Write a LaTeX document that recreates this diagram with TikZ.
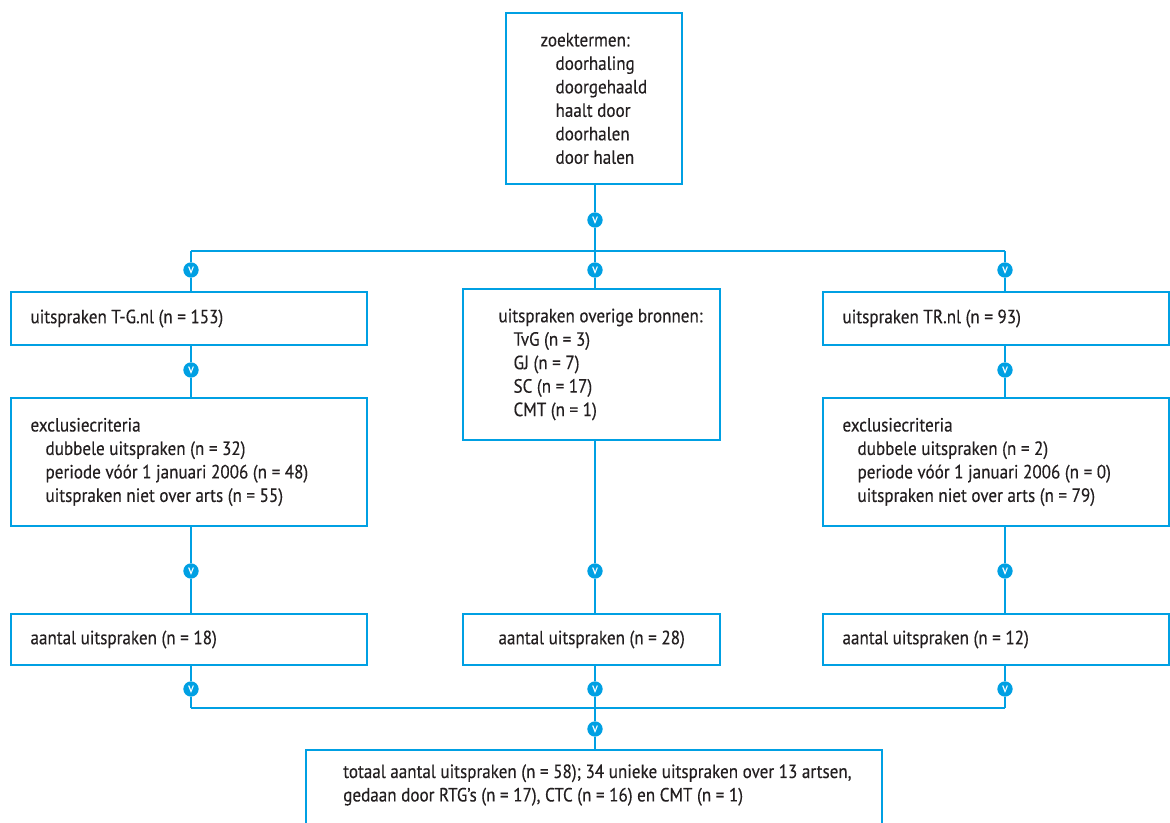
\documentclass[tikz,border=0pt]{standalone}
\usepackage{fontspec}
\setmainfont{PT Sans}[FakeStretch=0.89,FakeBold=0.3]
\usetikzlibrary{fit}
\definecolor{lb}{RGB}{0,160,227}
\definecolor{ink}{RGB}{35,31,32}
\newcommand\ind{\hspace*{11.25pt}}
\begin{document}
\begin{tikzpicture}[x=0.75pt,y=-0.75pt,
  box/.style={draw=lb, line width=1.1pt, inner sep=0pt, rectangle},
  txt/.style={inner sep=0pt, align=left, text=ink, font=\fontsize{14.4}{17.6}\selectfont, anchor=west},
  dot/.style={circle, fill=lb, minimum size=11.5pt, inner sep=0pt, text=white, font=\fontsize{10}{10}\selectfont},
  ln/.style={draw=lb, line width=1.1pt}]
\useasboundingbox (0,0) rectangle (1170,823);
\clip (0,0) rectangle (1170,823);
% boxes
\node[box, fit={(506,13) (682,184)}] (top) {};
\node[box, fit={(11,292) (367,345)}] (tg) {};
\node[box, fit={(11,398) (367,526)}] (tgx) {};
\node[box, fit={(11,614) (367,665)}] (tga) {};
\node[box, fit={(463,289) (720,440)}] (ov) {};
\node[box, fit={(463,614) (720,665)}] (ova) {};
\node[box, fit={(823,292) (1169,345)}] (tr) {};
\node[box, fit={(823,398) (1169,526)}] (trx) {};
\node[box, fit={(823,614) (1169,665)}] (tra) {};
\node[box, fit={(306,750) (882,840)}] (tot) {};
% texts
\node[txt] (top-t) at ([xshift=26.25pt]top.west) {zoektermen:\\\ind doorhaling\\\ind doorgehaald\\\ind haalt door\\\ind doorhalen\\\ind door halen};
\node[txt] (tg-t) at ([xshift=15pt]tg.west) {uitspraken T-G.nl (n = 153)};
\node[txt] (tgx-t) at ([xshift=15pt]tgx.west) {exclusiecriteria\\\ind dubbele uitspraken (n = 32)\\\ind periode vóór 1 januari 2006 (n = 48)\\\ind uitspraken niet over arts (n = 55)};
\node[txt] (tga-t) at ([xshift=15pt]tga.west) {aantal uitspraken (n = 18)};
\node[txt] (ov-t) at ([xshift=27pt]ov.west) {uitspraken overige bronnen:\\\ind TvG (n = 3)\\\ind GJ (n = 7)\\\ind SC (n = 17)\\\ind CMT (n = 1)};
\node[txt] (ova-t) at ([xshift=27pt]ova.west) {aantal uitspraken (n = 28)};
\node[txt] (tr-t) at ([xshift=15pt]tr.west) {uitspraken TR.nl (n = 93)};
\node[txt] (trx-t) at ([xshift=15pt]trx.west) {exclusiecriteria\\\ind dubbele uitspraken (n = 2)\\\ind periode vóór 1 januari 2006 (n = 0)\\\ind uitspraken niet over arts (n = 79)};
\node[txt] (tra-t) at ([xshift=15pt]tra.west) {aantal uitspraken (n = 12)};
\node[txt] (tot-t) at (343,785) {totaal aantal uitspraken (n = 58); 34 unieke uitspraken over 13 artsen,\\gedaan door RTG’s (n = 17), CTC (n = 16) en CMT (n = 1)};
% dots
\node[dot] (d0) at (595,220) {v};
\node[dot] (dl1) at (191,270) {v};
\node[dot] (dm1) at (595,270) {v};
\node[dot] (dr1) at (1005,270) {v};
\node[dot] (dl2) at (191,370) {v};
\node[dot] (dr2) at (1005,370) {v};
\node[dot] (dl3) at (191,571) {v};
\node[dot] (dm3) at (595,571) {v};
\node[dot] (dr3) at (1005,571) {v};
\node[dot] (dl4) at (191,689) {v};
\node[dot] (dm4) at (595,689) {v};
\node[dot] (dr4) at (1005,689) {v};
\node[dot] (d5) at (595,729) {v};
% junctions
\coordinate (jt) at (595,251);
\coordinate (jl) at (191,251);
\coordinate (jr) at (1005,251);
\coordinate (bl) at (191,708);
\coordinate (bm) at (595,708);
\coordinate (br) at (1005,708);
% connectors
\draw[ln] (d0 |- top.south) -- (d0) -- (jt);
\draw[ln] (jl) -- (jr);
\draw[ln] (jl) -- (dl1) -- (dl1 |- tg.north);
\draw[ln] (jt) -- (dm1) -- (dm1 |- ov.north);
\draw[ln] (jr) -- (dr1) -- (dr1 |- tr.north);
\draw[ln] (dl2 |- tg.south) -- (dl2) -- (dl2 |- tgx.north);
\draw[ln] (dr2 |- tr.south) -- (dr2) -- (dr2 |- trx.north);
\draw[ln] (dl3 |- tgx.south) -- (dl3) -- (dl3 |- tga.north);
\draw[ln] (dm3 |- ov.south) -- (dm3) -- (dm3 |- ova.north);
\draw[ln] (dr3 |- trx.south) -- (dr3) -- (dr3 |- tra.north);
\draw[ln] (dl4 |- tga.south) -- (dl4) -- (bl);
\draw[ln] (dm4 |- ova.south) -- (dm4) -- (bm);
\draw[ln] (dr4 |- tra.south) -- (dr4) -- (br);
\draw[ln] (bl) -- (br);
\draw[ln] (bm) -- (d5) -- (d5 |- tot.north);
\end{tikzpicture}
\end{document}
